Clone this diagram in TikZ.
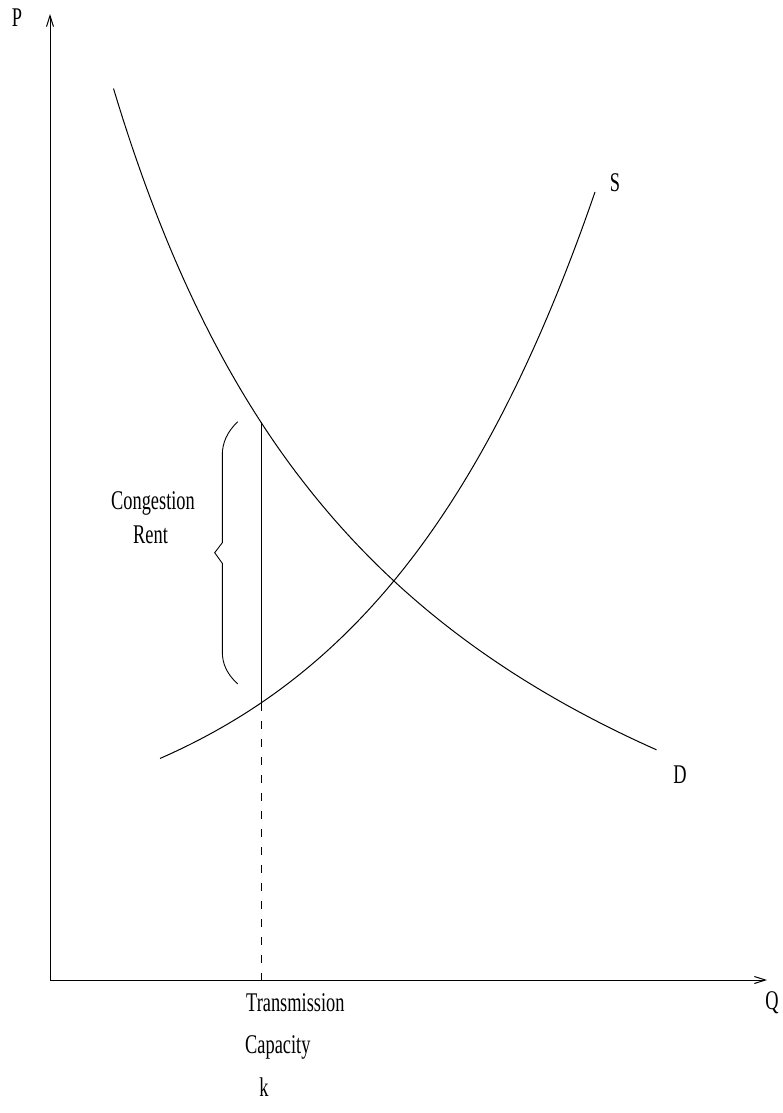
\documentclass[tikz,border=0pt]{standalone}
\usepackage{fontspec}
\setmainfont{Liberation Serif}[FakeStretch=0.68]
\usetikzlibrary{arrows.meta}
\begin{document}
\begin{tikzpicture}[x=1pt,y=-1pt,
  curve/.style={line width=1pt, black},
  axis/.style={line width=1pt, -{Straight Barb[length=11pt,width=7pt]}},
  lbl/.style={font=\fontsize{27}{32}\selectfont, inner sep=0pt, anchor=base},
  lblw/.style={lbl, anchor=base west}]
\useasboundingbox (0,0) rectangle (782,1113);
% axes
\coordinate (O) at (50,980);
\coordinate (Ytop) at (50,14);
\coordinate (Xend) at (767,980);
\draw[axis] (O) -- (Ytop);
\draw[axis] (O) -- (Xend);
\node[lbl] (P) at (17,27) {P};
\node[lbl] (Q) at (772,1009) {Q};
% demand
\draw[curve] plot[domain=113.5:656.5, samples=120] (\x, {1131.6 - 327/((\x+200)/1000)});
% supply
\draw[curve] plot[domain=160:595, samples=120] (\x, {859.1 - 50.2*exp(\x/230)});
\node[lbl] (S) at (615,191) {S};
\node[lbl] (D) at (680,783) {D};
% capacity line
\coordinate (kD) at (261,422.3);
\coordinate (kS) at (261,703);
\coordinate (kA) at (261,980);
\draw[curve] (kD) -- (kS);
\draw[line width=1pt, dash pattern=on 8pt off 10pt] (kS) -- (kA);
% brace
\draw[line width=0.9pt] (237.7,421.7) .. controls (227,432) and (222.3,443) .. (222.3,455)
  -- (222.3,542.7) -- (214.7,552.7) -- (222.3,563.3) -- (222.3,651.7)
  .. controls (222.3,664) and (227,674) .. (237.7,684);
\node[lblw] (cong) at (111,509) {Congestion};
\node[lblw] (rent) at (133,543) {Rent};
% capacity labels
\node[lblw] (tr) at (246,1011) {Transmission};
\node[lblw] (cap) at (245,1053) {Capacity};
\node[lbl] (k) at (264,1096) {k};
\end{tikzpicture}
\end{document}
